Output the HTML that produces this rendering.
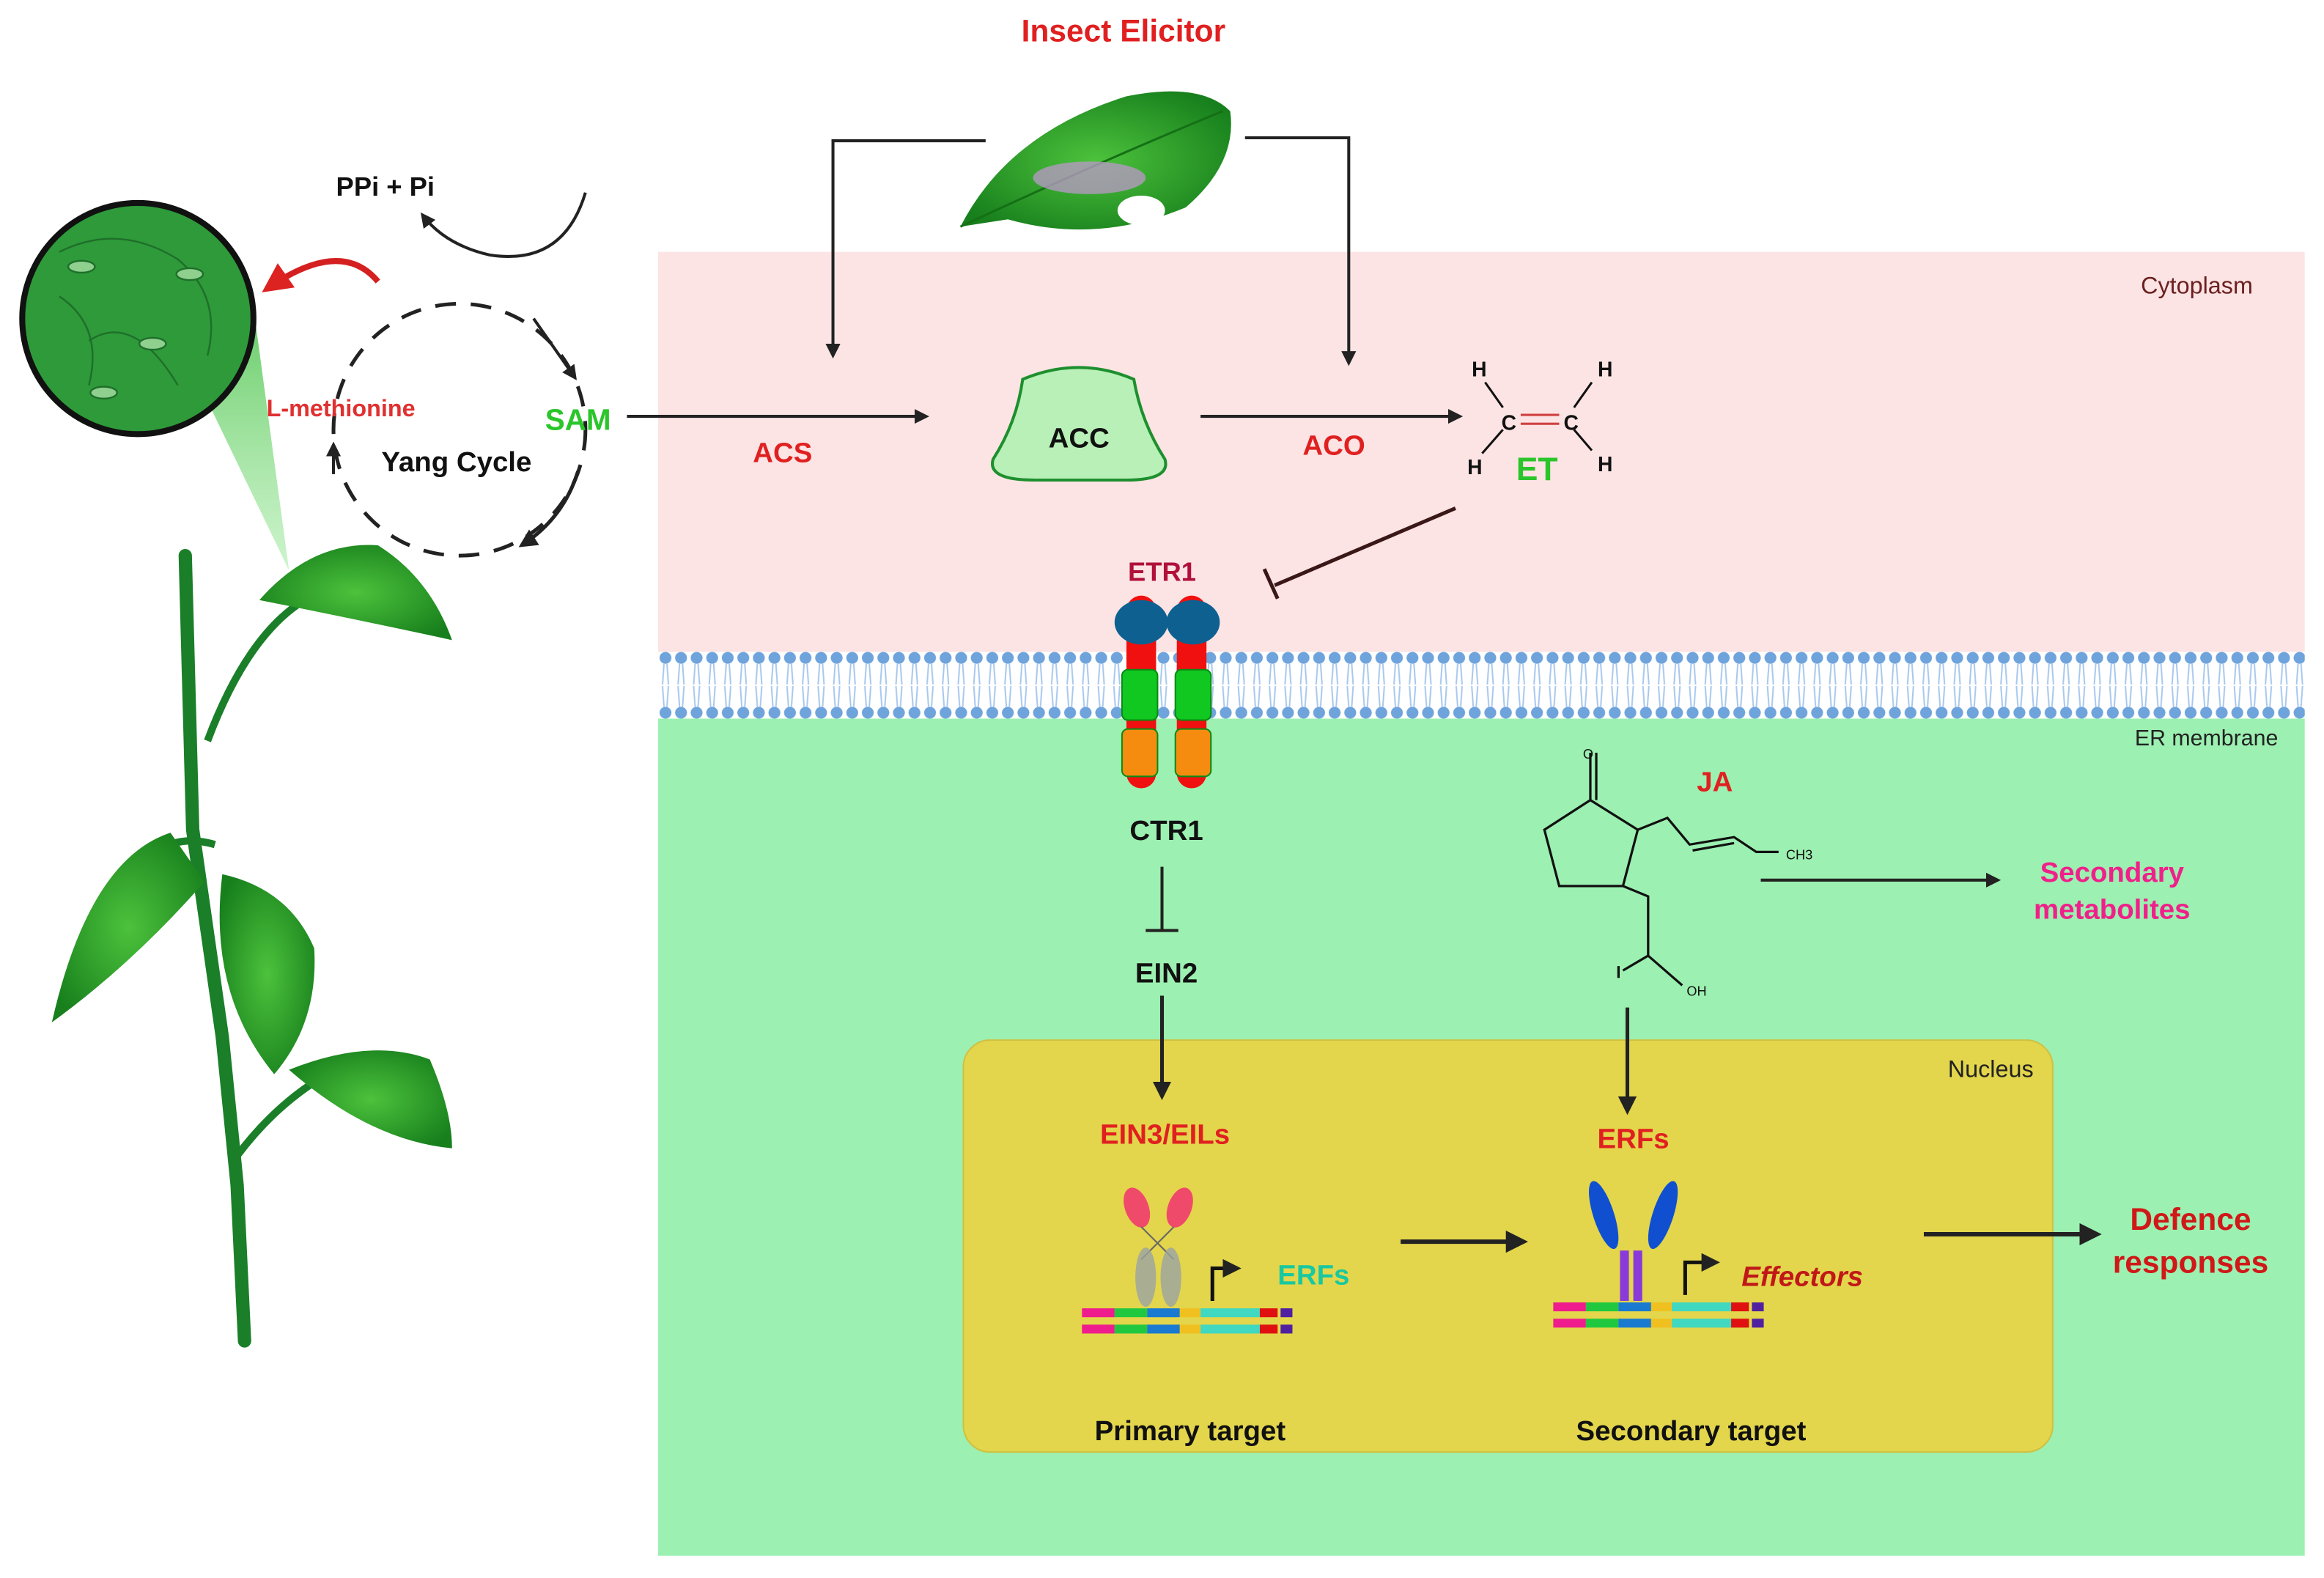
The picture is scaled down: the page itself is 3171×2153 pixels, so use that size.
<!DOCTYPE html>
<html><head><meta charset="utf-8"><style>
html,body{margin:0;padding:0;background:#fff}
svg{display:block}
text{font-family:"Liberation Sans",sans-serif;font-weight:bold}
</style></head><body>
<svg width="3171" height="2153" viewBox="0 0 1568 1065" preserveAspectRatio="none" xmlns="http://www.w3.org/2000/svg">
<defs>
<marker id="ah" viewBox="0 0 10 10" refX="8" refY="5" markerWidth="5" markerHeight="5" orient="auto"><path d="M0,0L10,5L0,10z" fill="#222"/></marker>
<marker id="ahr" viewBox="0 0 10 10" refX="8" refY="5" markerWidth="5" markerHeight="5" orient="auto"><path d="M0,0L10,5L0,10z" fill="#d22"/></marker>
<pattern id="lip" x="444" y="440" width="10.5" height="45" patternUnits="userSpaceOnUse">
<circle cx="5" cy="4" r="4" fill="#6fa3dc"/><circle cx="5" cy="41" r="4" fill="#6fa3dc"/>
<path d="M4,8 L3,22 M6,8 L7,22 M4,37 L3,23 M6,37 L7,23" stroke="#a8c8ee" stroke-width="1"/>
</pattern>
<radialGradient id="lf" cx="0.5" cy="0.5" r="0.6"><stop offset="0" stop-color="#4cc23c"/><stop offset="1" stop-color="#177f1c"/></radialGradient>
<linearGradient id="cone" x1="0" y1="0" x2="0" y2="1"><stop offset="0" stop-color="#4ec24e" stop-opacity="0.9"/><stop offset="1" stop-color="#9be89b" stop-opacity="0.5"/></linearGradient>
</defs>
<rect width="1568" height="1065" fill="#fff"/>
<rect x="444" y="170" width="1111" height="272" fill="#fde4e4"/>
<rect x="444" y="482" width="1111" height="568" fill="#9cf0b1"/>
<rect x="444" y="440" width="1111" height="45" fill="#fff"/>
<rect x="444" y="440" width="1111" height="45" fill="url(#lip)"/>
<rect x="650" y="702" width="735" height="278" rx="18" fill="#e3d64c" stroke="#d0c040" stroke-width="1"/>
<text x="1520" y="198" font-size="16" fill="#6b2020" text-anchor="end" style="font-weight:normal">Cytoplasm</text>
<text x="1537" y="503" font-size="15" fill="#222" text-anchor="end" style="font-weight:normal">ER membrane</text>
<text x="1372" y="727" font-size="16" fill="#222" text-anchor="end" style="font-weight:normal">Nucleus</text>

<!-- plant -->
<path d="M125,375 L130,560 L150,700 L160,800 L165,905" stroke="#1a7f28" stroke-width="9" fill="none" stroke-linecap="round"/>
<path d="M140,500 Q170,420 215,400" stroke="#1a7f28" stroke-width="5" fill="none"/>
<path d="M175,405 Q210,365 255,368 Q290,390 305,432 Q250,420 175,405z" fill="url(#lf)"/>
<path d="M145,570 Q110,560 95,590" stroke="#1a7f28" stroke-width="5" fill="none"/>
<path d="M115,562 Q60,580 35,690 Q90,650 138,595z" fill="url(#lf)"/>
<path d="M150,590 Q195,600 212,640 Q215,690 185,725 Q140,670 150,590z" fill="url(#lf)"/>
<path d="M160,780 Q190,740 230,720" stroke="#1a7f28" stroke-width="5" fill="none"/>
<path d="M195,722 Q250,700 290,715 Q305,750 305,775 Q250,770 195,722z" fill="url(#lf)"/>
<path d="M130,250 L195,385 L170,200z" fill="url(#cone)"/>
<circle cx="93" cy="215" r="78" fill="#2e9a3a" stroke="#111" stroke-width="4"/>
<g stroke="#1f6f2a" stroke-width="1.2" fill="none">
<path d="M40,170 Q80,150 120,175 Q150,200 140,240 M60,230 Q90,210 120,260 M40,200 Q70,220 60,260"/>
<ellipse cx="55" cy="180" rx="9" ry="4" fill="#8fd08f"/><ellipse cx="128" cy="185" rx="9" ry="4" fill="#8fd08f"/>
<ellipse cx="103" cy="232" rx="9" ry="4" fill="#8fd08f"/><ellipse cx="70" cy="265" rx="9" ry="4" fill="#8fd08f"/>
</g>
<path d="M255,190 Q230,160 180,195" stroke="#d42020" stroke-width="4" fill="none" marker-end="url(#ahr)"/>

<circle cx="310" cy="290" r="85" fill="none" stroke="#222" stroke-width="2.5" stroke-dasharray="14,10"/>
<path d="M360,215 L388,255" stroke="#222" stroke-width="2" marker-end="url(#ah)"/>
<path d="M390,318 Q380,350 352,368" stroke="#222" stroke-width="2.5" fill="none" marker-end="url(#ah)"/>
<path d="M225,320 L225,300" stroke="#222" stroke-width="2" marker-end="url(#ah)"/>
<path d="M395,130 Q380,180 330,172 Q300,165 285,145" stroke="#222" stroke-width="2" fill="none" marker-end="url(#ah)"/>
<text x="260" y="132" font-size="18" fill="#111" text-anchor="middle">PPi + Pi</text>
<text x="230" y="281" font-size="16" fill="#e03030" text-anchor="middle">L-methionine</text>
<text x="308" y="318" font-size="19" fill="#111" text-anchor="middle">Yang Cycle</text>
<text x="390" y="290" font-size="20" fill="#2ac52a" text-anchor="middle">SAM</text>

<text x="758" y="28" font-size="21" fill="#e02020" text-anchor="middle">Insect Elicitor</text>
<path d="M648,153 Q680,90 760,65 Q810,55 830,75 Q835,110 800,140 Q740,165 680,148z" fill="url(#lf)"/>
<path d="M648,153 Q740,110 825,75" stroke="#157015" stroke-width="1.5" fill="none"/>
<ellipse cx="735" cy="120" rx="38" ry="11" fill="#b49ac0" opacity="0.8"/>
<ellipse cx="770" cy="142" rx="16" ry="10" fill="#fff"/>
<path d="M665,95 L562,95 L562,240" stroke="#222" stroke-width="2" fill="none" marker-end="url(#ah)"/>
<path d="M840,93 L910,93 L910,245" stroke="#222" stroke-width="2" fill="none" marker-end="url(#ah)"/>

<line x1="423" y1="281" x2="625" y2="281" stroke="#222" stroke-width="2" marker-end="url(#ah)"/>
<text x="528" y="312" font-size="19" fill="#e02020" text-anchor="middle">ACS</text>
<path d="M690,256 Q728,240 765,256 Q770,285 786,310 Q790,324 760,324 L698,324 Q666,324 670,310 Q686,285 690,256z" fill="#b8f0b8" stroke="#1e8f2e" stroke-width="2"/>
<text x="728" y="302" font-size="19" fill="#111" text-anchor="middle">ACC</text>
<line x1="810" y1="281" x2="985" y2="281" stroke="#222" stroke-width="2" marker-end="url(#ah)"/>
<text x="900" y="307" font-size="19" fill="#e02020" text-anchor="middle">ACO</text>
<g font-size="14" fill="#111">
<text x="993" y="254">H</text><text x="1078" y="254">H</text><text x="990" y="320">H</text><text x="1078" y="318">H</text>
<text x="1013" y="290">C</text><text x="1055" y="290">C</text>
</g>
<path d="M1002,258 L1014,275 M1074,258 L1062,275 M1014,290 L1000,306 M1062,290 L1074,304" stroke="#111" stroke-width="1.5"/>
<path d="M1026,280 L1052,280 M1026,286 L1052,286" stroke="#d04040" stroke-width="1.5"/>
<text x="1037" y="324" font-size="22" fill="#2ac52a" text-anchor="middle">ET</text>
<line x1="982" y1="343" x2="860" y2="395" stroke="#3a1818" stroke-width="2.5"/>
<line x1="853" y1="384" x2="862" y2="404" stroke="#3a1818" stroke-width="2.5"/>

<text x="784" y="392" font-size="18" fill="#b0103a" text-anchor="middle">ETR1</text>
<rect x="760" y="402" width="20" height="130" rx="10" fill="#f01010"/>
<rect x="794" y="402" width="20" height="130" rx="10" fill="#f01010"/>
<ellipse cx="770" cy="420" rx="18" ry="15" fill="#0e6090"/>
<ellipse cx="805" cy="420" rx="18" ry="15" fill="#0e6090"/>
<rect x="757" y="452" width="24" height="34" rx="4" fill="#10c820" stroke="#0a8a15"/>
<rect x="793" y="452" width="24" height="34" rx="4" fill="#10c820" stroke="#0a8a15"/>
<rect x="757" y="492" width="24" height="32" rx="4" fill="#f58c10" stroke="#0a8a15"/>
<rect x="793" y="492" width="24" height="32" rx="4" fill="#f58c10" stroke="#0a8a15"/>
<text x="787" y="567" font-size="19" fill="#111" text-anchor="middle">CTR1</text>
<line x1="784" y1="585" x2="784" y2="628" stroke="#222" stroke-width="2"/>
<line x1="773" y1="628" x2="795" y2="628" stroke="#222" stroke-width="2"/>
<text x="787" y="663" font-size="19" fill="#111" text-anchor="middle">EIN2</text>
<line x1="784" y1="672" x2="784" y2="740" stroke="#222" stroke-width="2.5" marker-end="url(#ah)"/>
<text x="786" y="772" font-size="19" fill="#e02020" text-anchor="middle">EIN3/EILs</text>

<text x="1157" y="534" font-size="19" fill="#e02020" text-anchor="middle">JA</text>
<g stroke="#111" stroke-width="1.6" fill="none">
<path d="M1073,540 L1105,560 L1095,598 L1052,598 L1042,560 Z"/>
<path d="M1073,540 L1073,508 M1077,540 L1077,508"/>
<path d="M1105,560 L1125,552 L1140,570 L1170,565 L1185,575 L1200,575"/>
<path d="M1142,574 L1170,569"/>
<path d="M1095,598 L1112,605 L1112,645 L1095,655 M1112,645 L1135,665"/>
<path d="M1092,652 L1092,660"/>
</g>
<text x="1205" y="580" font-size="9" fill="#111" style="font-weight:normal">CH3</text>
<text x="1138" y="672" font-size="9" fill="#111" style="font-weight:normal">OH</text>
<text x="1068" y="512" font-size="9" fill="#111" style="font-weight:normal">O</text>
<line x1="1188" y1="594" x2="1348" y2="594" stroke="#222" stroke-width="2" marker-end="url(#ah)"/>
<text x="1425" y="595" font-size="19" fill="#f0208a" text-anchor="middle">Secondary</text>
<text x="1425" y="620" font-size="19" fill="#f0208a" text-anchor="middle">metabolites</text>
<line x1="1098" y1="680" x2="1098" y2="750" stroke="#222" stroke-width="2.5" marker-end="url(#ah)"/>
<text x="1102" y="775" font-size="19" fill="#e02020" text-anchor="middle">ERFs</text>

<ellipse cx="767" cy="815" rx="8" ry="14" fill="#f04a6a" transform="rotate(-20 767 815)"/>
<ellipse cx="796" cy="815" rx="8" ry="14" fill="#f04a6a" transform="rotate(20 796 815)"/>
<path d="M770,828 L792,850 M792,828 L770,850" stroke="#666" stroke-width="1"/>
<ellipse cx="773" cy="862" rx="7" ry="20" fill="#9aa4a4" opacity="0.8"/>
<ellipse cx="790" cy="862" rx="7" ry="20" fill="#9aa4a4" opacity="0.8"/>
<g id="dna">
<rect x="730" y="883" width="22" height="6" fill="#ee1c8c"/><rect x="752" y="883" width="22" height="6" fill="#20c840"/><rect x="774" y="883" width="22" height="6" fill="#1a7ad0"/><rect x="796" y="883" width="14" height="6" fill="#f0c020"/><rect x="810" y="883" width="40" height="6" fill="#40d8c0"/><rect x="850" y="883" width="12" height="6" fill="#e01010"/><rect x="864" y="883" width="8" height="6" fill="#5020a0"/>
<rect x="730" y="894" width="22" height="6" fill="#ee1c8c"/><rect x="752" y="894" width="22" height="6" fill="#20c840"/><rect x="774" y="894" width="22" height="6" fill="#1a7ad0"/><rect x="796" y="894" width="14" height="6" fill="#f0c020"/><rect x="810" y="894" width="40" height="6" fill="#40d8c0"/><rect x="850" y="894" width="12" height="6" fill="#e01010"/><rect x="864" y="894" width="8" height="6" fill="#5020a0"/>
</g>
<path d="M818,878 L818,856 L835,856" stroke="#111" stroke-width="2.5" fill="none" marker-end="url(#ah)"/>
<text x="862" y="867" font-size="19" fill="#18c8a0">ERFs</text>
<text x="803" y="972" font-size="19" fill="#111" text-anchor="middle">Primary target</text>

<line x1="945" y1="838" x2="1028" y2="838" stroke="#222" stroke-width="3" marker-end="url(#ah)"/>

<ellipse cx="1082" cy="820" rx="7" ry="24" fill="#1050d0" transform="rotate(-18 1082 820)"/>
<ellipse cx="1122" cy="820" rx="7" ry="24" fill="#1050d0" transform="rotate(18 1122 820)"/>
<rect x="1093" y="844" width="6" height="34" fill="#8a3ad8"/><rect x="1102" y="844" width="6" height="34" fill="#8a3ad8"/>
<use href="#dna" transform="translate(318,-4)"/>
<path d="M1137,874 L1137,852 L1158,852" stroke="#111" stroke-width="2.5" fill="none" marker-end="url(#ah)"/>
<text x="1175" y="868" font-size="19" fill="#c01818" font-style="italic">Effectors</text>
<text x="1141" y="972" font-size="19" fill="#111" text-anchor="middle">Secondary target</text>

<line x1="1298" y1="833" x2="1415" y2="833" stroke="#222" stroke-width="3" marker-end="url(#ah)"/>
<text x="1478" y="830" font-size="21" fill="#d01818" text-anchor="middle">Defence</text>
<text x="1478" y="859" font-size="21" fill="#d01818" text-anchor="middle">responses</text>
</svg>
</body></html>
